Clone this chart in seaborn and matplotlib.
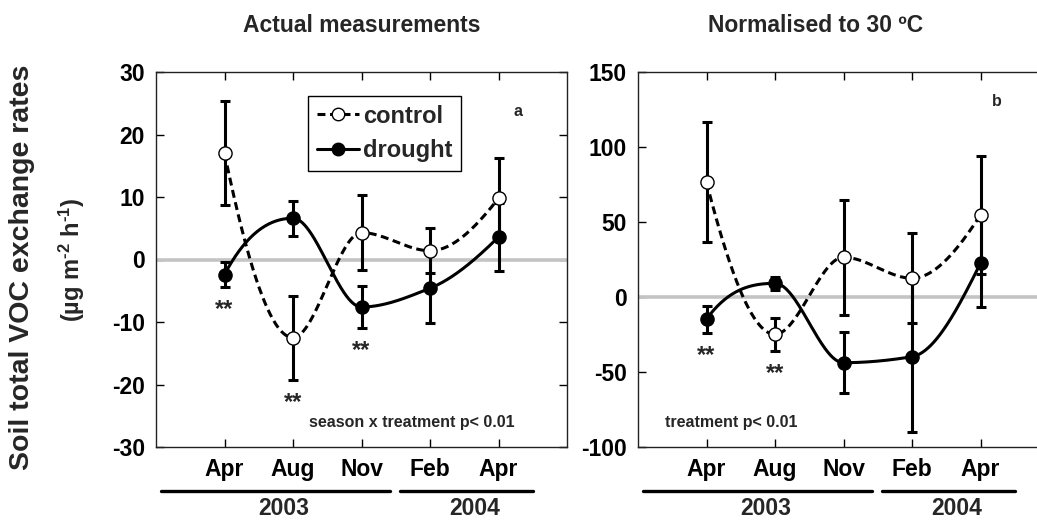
import numpy as np
import pandas as pd
import matplotlib
matplotlib.use("Agg")
import matplotlib.pyplot as plt
import matplotlib.transforms as mtransforms
from matplotlib.lines import Line2D
import seaborn as sns

# ---------------- data ----------------
months = ["Apr", "Aug", "Nov", "Feb", "Apr"]
years = ["2003", "2004"]

# panel a: actual measurements
a_control = [17.0, -12.5, 4.3, 1.4, 9.8]
a_control_err = [8.3, 6.7, 6.0, 3.6, 6.5]
a_drought = [-2.4, 6.6, -7.6, -4.6, 3.6]
a_drought_err = [2.0, 2.8, 3.4, 5.5, 5.4]

# panel b: normalised to 30 C
b_control = [76.5, -24.9, 26.5, 12.5, 54.7]
b_control_err = [40.0, 11.0, 38.5, 30.0, 39.3]
b_drought = [-14.7, 9.1, -43.8, -39.8, 22.5]
b_drought_err = [9.0, 4.3, 20.3, 50.0, 29.4]

# significance markers (index of month, per panel)
a_sig = [0, 1, 2]
b_sig = [0, 1]

# ---------------- style ----------------
sns.set_theme(style="ticks")
plt.rcParams["font.family"] = ["Liberation Sans", "DejaVu Sans"]
plt.rcParams["font.weight"] = "bold"
plt.rcParams["axes.unicode_minus"] = False
plt.rcParams["mathtext.fontset"] = "custom"
plt.rcParams["mathtext.rm"] = "Liberation Sans:bold"
plt.rcParams["mathtext.bf"] = "Liberation Sans:bold"
plt.rcParams["mathtext.it"] = "Liberation Sans:bold"


def _edge_slope(h0, h1, d0, d1):
    d = ((2 * h0 + h1) * d0 - h0 * d1) / (h0 + h1)
    if np.sign(d) != np.sign(d0):
        d = 0.0
    elif np.sign(d0) != np.sign(d1) and abs(d) > abs(3 * d0):
        d = 3 * d0
    return d


def pchip_curve(x, y, n=300):
    """Shape-preserving piecewise cubic Hermite curve through the points."""
    x = np.asarray(x, float)
    y = np.asarray(y, float)
    h = np.diff(x)
    delta = np.diff(y) / h
    m = len(x)
    d = np.zeros(m)
    for k in range(1, m - 1):
        if delta[k - 1] * delta[k] > 0:
            w1 = 2 * h[k] + h[k - 1]
            w2 = h[k] + 2 * h[k - 1]
            d[k] = (w1 + w2) / (w1 / delta[k - 1] + w2 / delta[k])
        else:
            d[k] = 0.0
    d[0] = _edge_slope(h[0], h[1], delta[0], delta[1])
    d[-1] = _edge_slope(h[-1], h[-2], delta[-1], delta[-2])
    xs = np.linspace(x[0], x[-1], n)
    idx = np.clip(np.searchsorted(x, xs) - 1, 0, m - 2)
    hh = h[idx]
    t = (xs - x[idx]) / hh
    h00 = 2 * t ** 3 - 3 * t ** 2 + 1
    h10 = t ** 3 - 2 * t ** 2 + t
    h01 = -2 * t ** 3 + 3 * t ** 2
    h11 = t ** 3 - t ** 2
    ys = h00 * y[idx] + h10 * hh * d[idx] + h01 * y[idx + 1] + h11 * hh * d[idx + 1]
    return xs, ys


fig = plt.figure(figsize=(10.37, 5.23), dpi=100)
axw = 411 / 1037
axh = 375 / 523
y0 = 76 / 523
ax_a = fig.add_axes([156 / 1037, y0, axw, axh])
ax_b = fig.add_axes([638 / 1037, y0, axw, axh])

xpos = np.arange(1, len(months) + 1)
DASH = (0, (2.6, 1.5))


def draw_panel(ax, ctrl, ctrl_err, drt, drt_err, ylim, yticks, sig, note, note_x, letter, letter_xy):
    ax.set_xlim(0, 6)
    ax.set_ylim(*ylim)
    ax.axhline(0, color="#c4c4c4", lw=2.6, zorder=1)

    for vals, ls in ((ctrl, DASH), (drt, "-")):
        xs, ys = pchip_curve(xpos, vals)
        df = pd.DataFrame({"x": xs, "y": ys})
        sns.lineplot(data=df, x="x", y="y", ax=ax, color="black", lw=2.2,
                     linestyle=ls, sort=False, estimator=None, zorder=2)

    for vals, err in ((ctrl, ctrl_err), (drt, drt_err)):
        ax.errorbar(xpos, vals, yerr=err, fmt="none", ecolor="black",
                    elinewidth=2.2, capsize=3.3, capthick=2.2, zorder=3)
    for vals, fc in ((ctrl, "white"), (drt, "black")):
        sns.scatterplot(x=xpos, y=vals, ax=ax, s=90, color=fc,
                        edgecolor="black", linewidth=1.0, zorder=4)

    ax.set_xticks(xpos)
    ax.set_xticklabels(months)
    ax.set_yticks(yticks)
    ax.set_yticklabels([str(v) for v in yticks])
    ax.tick_params(direction="in", length=6, width=1.0, top=True, right=True,
                   labelsize=16.5, pad=8, colors="black")
    ax.tick_params(axis="x", pad=8)
    for lab in ax.get_xticklabels() + ax.get_yticklabels():
        lab.set_fontweight("bold")
    for sp in ax.spines.values():
        sp.set_linewidth(1.0)
        sp.set_color("#222222")
    ax.set_xlabel("")
    ax.set_ylabel("")

    # significance stars below the lower error bar
    lows = np.minimum(np.array(ctrl) - np.array(ctrl_err),
                      np.array(drt) - np.array(drt_err))
    for i in sig:
        ax.annotate("**", xy=(xpos[i], lows[i]), xytext=(0, -8),
                    textcoords="offset points", ha="center", va="top",
                    fontsize=17, fontweight="bold")

    ax.text(note_x, 0.065, note, transform=ax.transAxes, ha="left",
            va="center", fontsize=11.5, fontweight="bold")
    ax.text(letter_xy[0], letter_xy[1], letter, transform=ax.transAxes,
            ha="center", va="center", fontsize=11.5, fontweight="bold")

    # year brackets under the axis
    trans = mtransforms.blended_transform_factory(ax.transData, ax.transAxes)
    spans = [(0.08, 3.42), (3.56, 5.5)]
    for (x_a, x_b), yr in zip(spans, years):
        ax.add_line(Line2D([x_a, x_b], [-0.1165, -0.1165], transform=trans,
                           color="black", lw=2.4, clip_on=False))
        ax.text((x_a + x_b) / 2 + 0.12, -0.165, yr, transform=trans, ha="center",
                va="center", fontsize=16.5, fontweight="bold")


draw_panel(ax_a, a_control, a_control_err, a_drought, a_drought_err,
           (-30, 30), [-30, -20, -10, 0, 10, 20, 30], a_sig,
           "season x treatment p< 0.01", (309 - 156) / 411, "a",
           ((518 - 156) / 411, (447 - 112) / 375))
draw_panel(ax_b, b_control, b_control_err, b_drought, b_drought_err,
           (-100, 150), [-100, -50, 0, 50, 100, 150], b_sig,
           "treatment p< 0.01", (665 - 638) / 411, "b",
           ((997 - 638) / 411, (447 - 102) / 375))

handles = [
    Line2D([], [], color="black", lw=2.2, linestyle=DASH, marker="o",
           markersize=9, markerfacecolor="white", markeredgecolor="black"),
    Line2D([], [], color="black", lw=2.2, linestyle="-", marker="o",
           markersize=9, markerfacecolor="black", markeredgecolor="black"),
]
leg = ax_a.legend(handles, ["control", "drought"], loc="upper left",
                  bbox_to_anchor=((307.7 - 156) / 411, (447 - 95.7) / 375),
                  borderaxespad=0, fancybox=False, framealpha=1,
                  edgecolor="black", handlelength=1.8, handletextpad=0.15,
                  labelspacing=0.5, borderpad=0.38,
                  prop={"size": 17, "weight": "bold"})
leg.get_frame().set_linewidth(1.0)

fig.text(243 / 1037, 1 - 25 / 523, "Actual measurements", ha="left",
         va="center", fontsize=16.5, fontweight="bold")
fig.text(708 / 1037, 1 - 25 / 523, "Normalised to 30 ºC", ha="left",
         va="center", fontsize=16.5, fontweight="bold")

fig.text(22 / 1037, 1 - 267 / 523, "Soil total VOC exchange rates",
         rotation=90, ha="center", va="center", fontsize=20.5, fontweight="bold")
fig.text(72 / 1037, 1 - 260 / 523, "(µg m$^{\u20102}$ h$^{\u20101}$)",
         rotation=90, ha="center", va="center", fontsize=17, fontweight="bold")

fig.savefig("out.png", dpi=100, facecolor="white")
